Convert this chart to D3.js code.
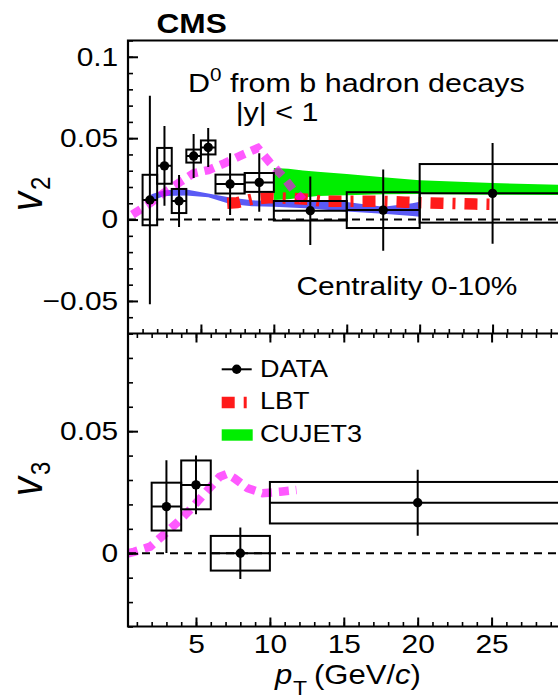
<!DOCTYPE html>
<html>
<head>
<meta charset="utf-8">
<script src="https://cdn.jsdelivr.net/npm/d3@7"></script>
<style>
  html, body { margin: 0; padding: 0; background: #fff; overflow: hidden; }
  svg { display: block; }
  text { font-family: "Liberation Sans", Arial, Helvetica, sans-serif; fill: #000; }
</style>
</head>
<body>
<svg id="chart" width="558" height="700"></svg>
<script>
// ---- v2 measurement, D0 from b hadron decays, |y| < 1, centrality 0-10% ----
const v2BinLo = [1, 2, 3, 4, 5, 6, 8, 10, 15, 20];
const v2BinHi = [2, 3, 4, 5, 6, 8, 10, 15, 20, 40];
const v2Pt    = [1.5, 2.5, 3.5, 4.5, 5.5, 7, 9, 12.5, 17.5, 25];
const v2Val   = [0.0120, 0.0330, 0.0114, 0.0390, 0.0443, 0.0218, 0.0228, 0.0054, 0.0058, 0.0161];
const v2Stat  = [0.0640, 0.0245, 0.0160, 0.0135, 0.0120, 0.0190, 0.0180, 0.0210, 0.0250, 0.0310];
const v2Syst  = [0.0155, 0.0110, 0.0074, 0.0040, 0.0043, 0.0058, 0.0058, 0.0060, 0.0110, 0.0180];

// ---- v3 measurement ----
const v3BinLo = [2, 4, 6, 10];
const v3BinHi = [4, 6, 10, 40];
const v3Pt    = [3, 5, 8, 20];
const v3Val   = [0.0191, 0.0280, 0.0000, 0.0207];
const v3Stat  = [0.0190, 0.0120, 0.0105, 0.0135];
const v3Syst  = [0.0098, 0.0100, 0.0071, 0.0085];

// ---- model curves, v2 ----
const lbtPt  = [6.8, 7.5, 8.5, 9.8, 11, 12.3, 13.3, 15, 17, 19, 21.5, 23.8, 25];
const lbtV2  = [0.0100, 0.0104, 0.0125, 0.0135, 0.0131, 0.0125, 0.0113, 0.0113, 0.0113, 0.0107, 0.0100, 0.0095, 0.0093];

const cujetPt = [10, 11, 12, 13, 15, 17.5, 20, 25, 30, 40];
const cujetLo = [0.0120, 0.0125, 0.0135, 0.0145, 0.0150, 0.0155, 0.0157, 0.0153, 0.0150, 0.0150];
const cujetHi = [0.0316, 0.0312, 0.0302, 0.0294, 0.0280, 0.0260, 0.0242, 0.0225, 0.0212, 0.0200];

const bluePt = [1.6, 2.5, 4, 5.5, 7, 8.5, 10, 12.5, 15, 17.5, 19.5, 20];
const blueLo = [0.0115, 0.0145, 0.0148, 0.0137, 0.0095, 0.0082, 0.0078, 0.0068, 0.0050, 0.0035, 0.0022, 0.0018];
const blueHi = [0.0155, 0.0180, 0.0185, 0.0160, 0.0135, 0.0118, 0.0115, 0.0118, 0.0108, 0.0078, 0.0100, 0.0110];

const magPt2 = [0.3, 1.5, 2.4, 3.6, 4.5, 5.5, 6.6, 7.8, 8.9, 9.7, 10.6, 11.3, 12.0];
const magV2  = [0.0030, 0.0100, 0.0160, 0.0232, 0.0284, 0.0304, 0.0345, 0.0396, 0.0439, 0.0353, 0.0267, 0.0187, 0.0120];

// ---- model curve, v3 ----
const magPt3 = [0.4, 0.8, 1.9, 2.8, 3.8, 4.7, 5.6, 6.6, 7.1, 7.6, 8.5, 9.5, 10.7, 11.8];
const magV3  = [0.0000, 0.0006, 0.0027, 0.0075, 0.0129, 0.0184, 0.0246, 0.0313, 0.0325, 0.0307, 0.0266, 0.0246, 0.0252, 0.0259];

// ---- axis ticks ----
const xMajor = [5, 10, 15, 20, 25, 30];
const xLabeled = [5, 10, 15, 20, 25];
const xMinor = d3.range(1, 30);
const v2Major = [-0.05, 0, 0.05, 0.1];
const v2Minor = d3.range(-7, 12).map(i => i / 100);
const v3Major = [0, 0.05];
const v3Minor = d3.range(-3, 10).map(i => i / 100);

// ---- layout ----
const SX = 1.15;           // horizontal text stretch
const L = 128, R = 565.5;
const yTopEdge = 40.5, yDiv = 333.5, yBottom = 626.5;

const svg = d3.select("#chart");

const xTop = d3.scaleLinear().domain([0, 30]).range([L, R]);
const xBot = d3.scaleLinear().domain([0.4, 30]).range([L, R]);
const yTop = d3.scaleLinear().domain([-0.07, 0.11]).range([yDiv, yTopEdge]);
const yBot = d3.scaleLinear().domain([-0.03, 0.09]).range([yBottom, yDiv]);

const defs = svg.append("defs");
defs.append("clipPath").attr("id", "clipTop").append("rect")
  .attr("x", L).attr("y", yTopEdge).attr("width", 700).attr("height", yDiv - yTopEdge);
defs.append("clipPath").attr("id", "clipBot").append("rect")
  .attr("x", L).attr("y", yDiv).attr("width", 700).attr("height", yBottom - yDiv);

const magenta = "rgba(255,0,255,0.65)";

function drawData(g, x, y, lo, hi, pt, val, stat, syst) {
  const rows = d3.range(pt.length).map(i => ({
    lo: lo[i], hi: hi[i], pt: pt[i], v: val[i], s: stat[i], e: syst[i]
  }));
  g.selectAll(null).data(rows).join("rect")
    .attr("x", d => x(d.lo)).attr("width", d => x(d.hi) - x(d.lo))
    .attr("y", d => y(d.v + d.e)).attr("height", d => y(d.v - d.e) - y(d.v + d.e))
    .attr("fill", "none").attr("stroke", "#000").attr("stroke-width", 2);
  g.selectAll(null).data(rows).join("line")
    .attr("x1", d => x(d.lo)).attr("x2", d => x(d.hi))
    .attr("y1", d => y(d.v)).attr("y2", d => y(d.v))
    .attr("stroke", "#000").attr("stroke-width", 2);
  g.selectAll(null).data(rows).join("line")
    .attr("x1", d => x(d.pt)).attr("x2", d => x(d.pt))
    .attr("y1", d => y(d.v - d.s)).attr("y2", d => y(d.v + d.s))
    .attr("stroke", "#000").attr("stroke-width", 2);
  g.selectAll(null).data(rows).join("circle")
    .attr("cx", d => x(d.pt)).attr("cy", d => y(d.v)).attr("r", 4.7)
    .attr("fill", "#000");
}

function zeroLine(g, y) {
  g.append("line")
    .attr("x1", L).attr("x2", 700).attr("y1", y(0)).attr("y2", y(0))
    .attr("stroke", "#000").attr("stroke-width", 2).attr("stroke-dasharray", "8,6");
}

// ================= upper panel: v2 =================
const v2Panel = svg.append("g").attr("clip-path", "url(#clipTop)");

v2Panel.append("path")
  .datum(d3.range(bluePt.length))
  .attr("fill", "#5a5af5")
  .attr("d", d3.area().x(i => xTop(bluePt[i])).y0(i => yTop(blueLo[i])).y1(i => yTop(blueHi[i])));

v2Panel.append("path")
  .datum(d3.range(cujetPt.length))
  .attr("fill", "#00ee00")
  .attr("d", d3.area().x(i => xTop(cujetPt[i])).y0(i => yTop(cujetLo[i])).y1(i => yTop(cujetHi[i])));

v2Panel.append("path")
  .datum(d3.zip(lbtPt, lbtV2))
  .attr("fill", "none").attr("stroke", "#ff1a1a").attr("stroke-width", 11.5)
  .attr("stroke-dasharray", "13,9,3,9")
  .attr("d", d3.line().x(d => xTop(d[0])).y(d => yTop(d[1])));

v2Panel.append("path")
  .datum(d3.zip(magPt2, magV2))
  .attr("fill", "none").attr("stroke", magenta).attr("stroke-width", 8.5)
  .attr("stroke-dasharray", "10,7")
  .attr("d", d3.line().x(d => xTop(d[0])).y(d => yTop(d[1])));

zeroLine(v2Panel, yTop);
drawData(v2Panel.append("g"), xTop, yTop, v2BinLo, v2BinHi, v2Pt, v2Val, v2Stat, v2Syst);

// ================= lower panel: v3 =================
const v3Panel = svg.append("g").attr("clip-path", "url(#clipBot)");

v3Panel.append("path")
  .datum(d3.zip(magPt3, magV3))
  .attr("fill", "none").attr("stroke", magenta).attr("stroke-width", 8.5)
  .attr("stroke-dasharray", "10,7")
  .attr("d", d3.line().x(d => xBot(d[0])).y(d => yBot(d[1])));

zeroLine(v3Panel, yBot);
drawData(v3Panel.append("g"), xBot, yBot, v3BinLo, v3BinHi, v3Pt, v3Val, v3Stat, v3Syst);

// ================= axes =================
function styleAxis(sel, width) {
  sel.attr("font-size", null).attr("font-family", null);
  sel.select(".domain").remove();
  sel.selectAll(".tick line").attr("stroke-width", width);
}

function yAxis(y, majors, minors, fmt) {
  svg.append("g").attr("transform", `translate(${L},0)`)
    .call(d3.axisLeft(y).tickValues(minors).tickSize(-5).tickFormat(""))
    .call(s => styleAxis(s, 1.6));
  svg.append("g").attr("transform", `translate(${L},0)`)
    .call(d3.axisLeft(y).tickValues(majors).tickSize(-10).tickPadding(8.5).tickFormat(fmt))
    .call(s => styleAxis(s, 2))
    .call(s => s.selectAll(".tick text")
      .style("font-size", "26px")
      .attr("transform", `scale(${SX},1)`));
}

const yFmt = v => v === 0 ? "0" : (v < 0 ? "\u2212" : "") + String(Math.abs(+v.toFixed(2)));
yAxis(yTop, v2Major, v2Minor, yFmt);
yAxis(yBot, v3Major, v3Minor, yFmt);

// shared boundary: ticks of the upper panel point up, of the lower panel point down
svg.append("g").attr("transform", `translate(0,${yDiv})`)
  .call(d3.axisBottom(xTop).tickValues(xMinor).tickSize(-4.5).tickFormat(""))
  .call(s => styleAxis(s, 1.6));
svg.append("g").attr("transform", `translate(0,${yDiv})`)
  .call(d3.axisBottom(xTop).tickValues(xMajor).tickSize(-9).tickFormat(""))
  .call(s => styleAxis(s, 2));
svg.append("g").attr("transform", `translate(0,${yDiv})`)
  .call(d3.axisTop(xBot).tickValues(xMinor).tickSize(-4.5).tickFormat(""))
  .call(s => styleAxis(s, 1.6));
svg.append("g").attr("transform", `translate(0,${yDiv})`)
  .call(d3.axisTop(xBot).tickValues(xMajor).tickSize(-9).tickFormat(""))
  .call(s => styleAxis(s, 2));

// bottom x axis
svg.append("g").attr("transform", `translate(0,${yBottom})`)
  .call(d3.axisBottom(xBot).tickValues(xMinor).tickSize(-4.5).tickFormat(""))
  .call(s => styleAxis(s, 1.6));
svg.append("g").attr("transform", `translate(0,${yBottom})`)
  .call(d3.axisBottom(xBot).tickValues(xMajor).tickSize(-9).tickFormat(""))
  .call(s => styleAxis(s, 2));
svg.append("g").attr("transform", `translate(0,${yBottom})`)
  .call(d3.axisBottom(xBot).tickValues(xLabeled).tickSize(0).tickPadding(8.5).tickFormat(d3.format("d")))
  .call(s => styleAxis(s, 0))
  .call(s => s.selectAll(".tick line").remove())
  .call(s => s.selectAll(".tick text")
    .style("font-size", "26px")
    .attr("transform", `scale(${SX},1)`));

// frame
svg.append("path")
  .attr("d", `M700,${yTopEdge}H${L}V${yBottom}H700M${L},${yDiv}H700`)
  .attr("fill", "none").attr("stroke", "#000").attr("stroke-width", 2.2);

// ================= text =================
function label(x, y, size, anchor) {
  return svg.append("g").attr("transform", `translate(${x},${y}) scale(${SX},1)`)
    .append("text").attr("text-anchor", anchor || "start").style("font-size", size + "px");
}

label(156.5, 33, 27.5).style("font-weight", "bold").text("CMS");

const t1 = label(188, 92, 26.5);
t1.append("tspan").text("D");
t1.append("tspan").attr("dy", -11).style("font-size", "18px").text("0");
t1.append("tspan").attr("dy", 11).text(" from b hadron decays");

label(277, 120.5, 26.5, "middle").text("|y| < 1");

label(296.5, 295, 26).text("Centrality 0-10%");

// axis titles
function vLabel(y0, sub) {
  const t = svg.append("g").attr("transform", `translate(42,${y0}) scale(${SX},1) rotate(-90)`)
    .append("text");
  t.append("tspan").style("font-style", "italic").style("font-size", "38px").text("v");
  t.append("tspan").attr("dy", 7).attr("dx", 2).style("font-size", "24px").text(sub);
}
vLabel(211, "2");
vLabel(496, "3");

label(275, 684, 27).style("font-style", "italic").text("p");
label(293, 695, 20).text("T");
const xt = label(314, 684, 27);
xt.append("tspan").text("(GeV/");
xt.append("tspan").style("font-style", "italic").text("c");
xt.append("tspan").text(")");

// ================= legend =================
const lg = svg.append("g");
lg.append("line").attr("x1", 221.7).attr("x2", 251.7).attr("y1", 369.3).attr("y2", 369.3)
  .attr("stroke", "#000").attr("stroke-width", 2);
lg.append("circle").attr("cx", 236.7).attr("cy", 369.3).attr("r", 4.7).attr("fill", "#000");
lg.append("line").attr("x1", 221.7).attr("x2", 252).attr("y1", 402.5).attr("y2", 402.5)
  .attr("stroke", "#ff1a1a").attr("stroke-width", 11.5).attr("stroke-dasharray", "13,9,3,9");
lg.append("rect").attr("x", 221.7).attr("y", 429.3).attr("width", 31).attr("height", 11.4)
  .attr("fill", "#00ee00");

label(260, 376.5, 23.5).text("DATA");
label(260, 409.3, 23.5).text("LBT");
label(260, 441.7, 23.5).text("CUJET3");
</script>
</body>
</html>
